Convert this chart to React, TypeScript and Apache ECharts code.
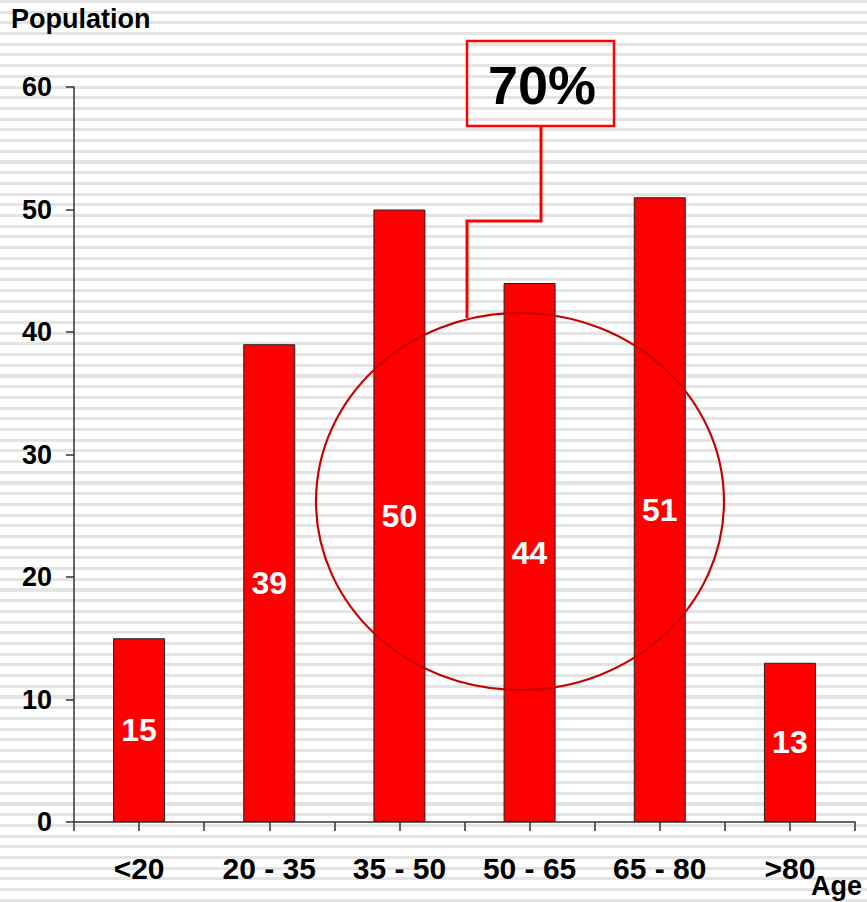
import React, { useEffect, useRef } from "react";
import * as echarts from "echarts";

// Age groups along the x axis
const ageGroups: string[] = ["<20", "20 - 35", "35 - 50", "50 - 65", "65 - 80", ">80"];
// Population per age group
const population: number[] = [15, 39, 50, 44, 51, 13];
// Y axis range
const yMin = 0;
const yMax = 60;
const yStep = 10;
// Callout text
const calloutText = "70%";
const yTitle = "Population";
const xTitle = "Age";

const FONT = "'Liberation Sans', Arial, sans-serif";

export default function App() {
  const ref = useRef<HTMLDivElement>(null);

  useEffect(() => {
    if (!ref.current) return;
    const chart = echarts.init(ref.current, undefined, { renderer: "svg" });
    chart.setOption({
      animation: false,
      backgroundColor: "transparent",
      textStyle: { fontFamily: FONT },
      grid: { left: 74, right: 12, top: 87, bottom: 80, containLabel: false },
      xAxis: [
        {
          type: "category",
          data: ageGroups,
          position: "bottom",
          axisLine: { show: true, lineStyle: { color: "#333", width: 1.5 } },
          axisTick: { show: true, alignWithLabel: true, length: 9, lineStyle: { color: "#333", width: 1.5 } },
          axisLabel: { fontSize: 30, fontWeight: "bold", color: "#000", margin: 31, fontFamily: FONT },
          splitLine: { show: false },
        },
        {
          type: "category",
          data: ageGroups,
          position: "bottom",
          axisLine: { show: false },
          axisTick: { show: true, length: 9, lineStyle: { color: "#333", width: 1.5 } },
          axisLabel: { show: false },
          splitLine: { show: false },
        },
      ],
      yAxis: {
        type: "value",
        min: yMin,
        max: yMax,
        interval: yStep,
        axisLine: { show: true, lineStyle: { color: "#333", width: 1.5 } },
        axisTick: { show: true, length: 8, lineStyle: { color: "#333", width: 1.5 } },
        axisLabel: { fontSize: 27, fontWeight: "bold", color: "#000", margin: 22, fontFamily: FONT },
        splitLine: { show: false },
      },
      series: [
        {
          type: "bar",
          data: population,
          xAxisIndex: 0,
          barWidth: 52,
          itemStyle: { color: "#ff0000", borderColor: "#222", borderWidth: 1 },
          label: {
            show: true,
            position: "inside",
            color: "#fff",
            fontSize: 32,
            fontWeight: "bold",
            fontFamily: FONT,
          },
        },
      ],
      graphic: [
        {
          type: "text",
          left: 11,
          top: 5,
          style: { text: yTitle, font: `bold 27px ${FONT}`, fill: "#000" },
        },
        {
          type: "text",
          x: 862,
          y: 886,
          style: { text: xTitle, font: `bold 27px ${FONT}`, fill: "#000", align: "right", verticalAlign: "middle" },
        },
        {
          type: "ellipse",
          z: 100,
          shape: { cx: 520, cy: 501.5, rx: 204, ry: 188.5 },
          style: { fill: "none", stroke: "#c80000", lineWidth: 2.2 },
        },
        {
          type: "polyline",
          z: 100,
          shape: { points: [[541, 127], [541, 221], [467, 221], [467, 318]] },
          style: { fill: "none", stroke: "#ff0000", lineWidth: 3 },
        },
        {
          type: "rect",
          z: 100,
          shape: { x: 467, y: 41, width: 147, height: 85 },
          style: { fill: "none", stroke: "#ff0000", lineWidth: 2.5 },
        },
        {
          type: "text",
          z: 100,
          x: 542,
          y: 85,
          style: { text: calloutText, font: `bold 54px ${FONT}`, fill: "#000", align: "center", verticalAlign: "middle" },
        },
      ],
    });
    return () => chart.dispose();
  }, []);

  return (
    <div
      style={{
        position: "fixed",
        left: 0,
        top: 0,
        width: 867,
        height: 902,
        background:
          "repeating-linear-gradient(to bottom, #e4e4e4 0px, #e4e4e4 3px, #ffffff 3px, #ffffff 10.7px)",
      }}
    >
      <div ref={ref} style={{ width: 867, height: 902 }} />
    </div>
  );
}
